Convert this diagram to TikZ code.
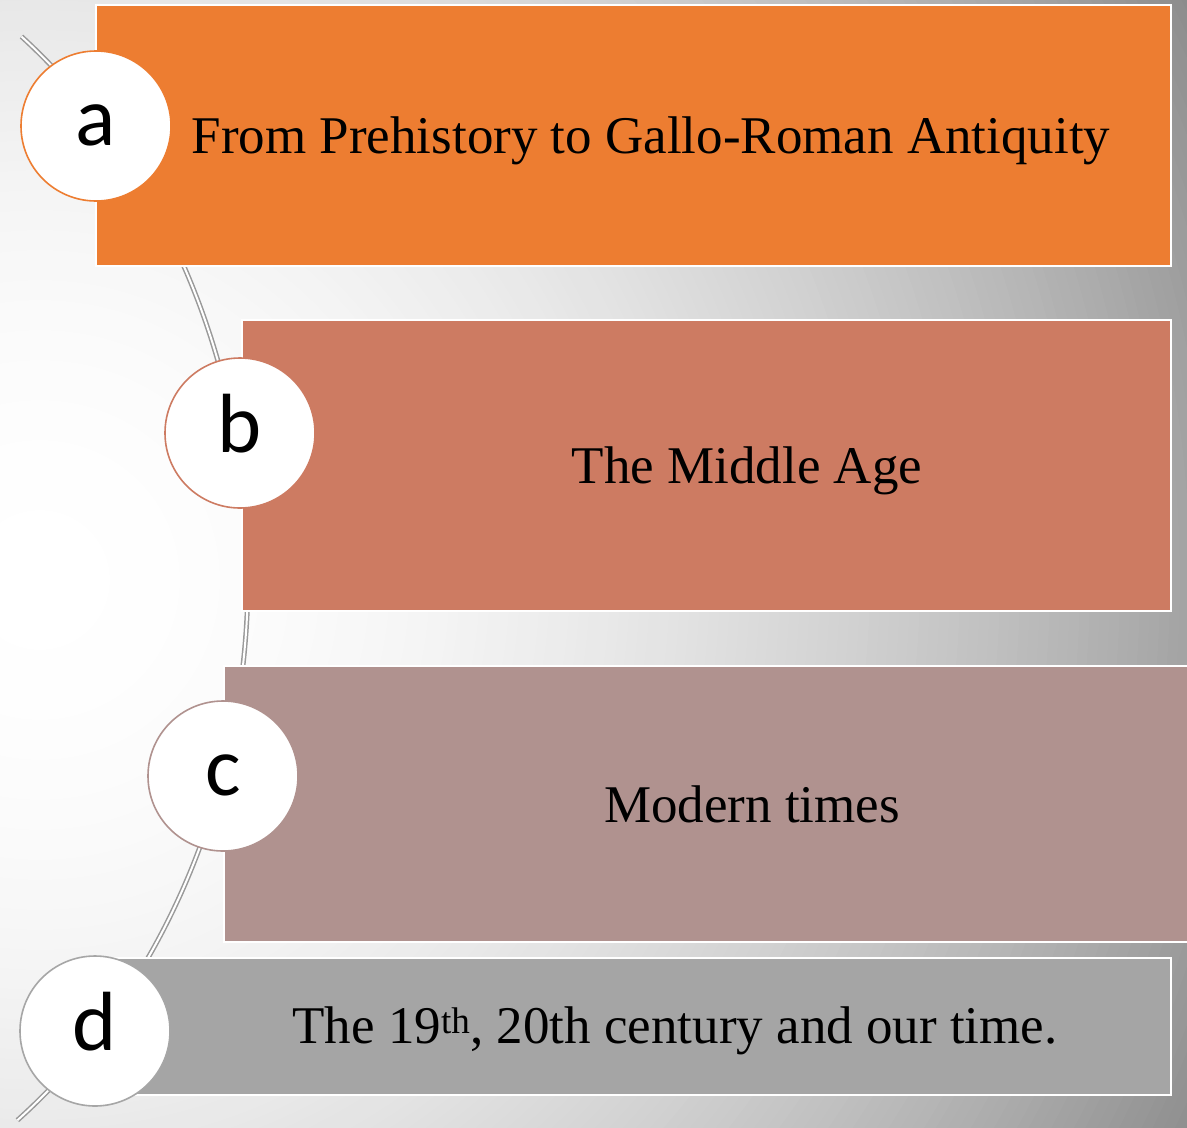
\documentclass[tikz,border=0pt]{standalone}
\usepackage{fontspec}
\setmainfont{Liberation Serif}
\newfontfamily\letterfont{Carlito}
\usetikzlibrary{positioning}
\definecolor{eraA}{HTML}{ED7D31}
\definecolor{eraB}{HTML}{CD7B62}
\definecolor{eraC}{HTML}{B0928F}
\definecolor{eraD}{HTML}{A5A5A5}
\definecolor{arcgray}{HTML}{999999}
\tikzstyle{era}=[%
      rectangle, draw=white, line width=2pt, inner sep=0pt
]
\tikzstyle{tag}=[%
      circle, fill=white, line width=1.6pt, minimum size=150pt, inner sep=0pt,
      text height=38pt, text depth=0pt, font=\letterfont\fontsize{84}{90}\selectfont
]
\tikzstyle{txt}=[%
      anchor=base, inner sep=0pt, font=\fontsize{53}{60}\selectfont
]
\begin{document}
\begin{tikzpicture}[x=1pt, y=-1pt]
    \useasboundingbox (0,0) rectangle (1187,1128);
    % background glow
    \begin{scope}
      \clip (0,0) rectangle (1187,1128);
      \foreach \r in {1300,1290,...,10} {
        \pgfmathsetmacro\g{(\r/100)*(\r/100)/3.7}
        \fill[black!\g] (40,580) circle (\r);
      }
    \end{scope}
    % the time line
    \draw[arcgray, line width=1.5pt, double=white, double distance=2pt]
      (-352,576.5) ++(-51.5:600 and 690) arc[start angle=-51.5, end angle=52, x radius=600, y radius=690];

    \node[era, fill=eraA, minimum width=1075pt, minimum height=261pt] (boxa) at (633.5,135.5) {};
    \node[era, fill=eraB, minimum width=929pt, minimum height=291pt]  (boxb) at (706.5,465.5) {};
    \node[era, fill=eraC, minimum width=976pt, minimum height=276pt]  (boxc) at (712,804)     {};
    \node[era, fill=eraD, minimum width=1074pt, minimum height=137pt] (boxd) at (634,1026.5)  {};

    \node[tag, draw=eraA]     (taga) at (96,126)   {a};
    \node[tag, draw=eraB]     (tagb) at (240,433)  {b};
    \node[tag, draw=eraC]     (tagc) at (223,776)  {c};
    \node[tag, draw=black!35] (tagd) at (95,1031)  {d};

    \node[txt] (texta) at (651,153)  {From Prehistory to Gallo-Roman Antiquity};
    \node[txt] (textb) at (747,483)  {The Middle Age};
    \node[txt] (textc) at (752,822)  {Modern times};
    \node[txt] (textd) at (675,1043) {The 19\textsuperscript{th}, 20th century and our time.};
\end{tikzpicture}
\end{document}
